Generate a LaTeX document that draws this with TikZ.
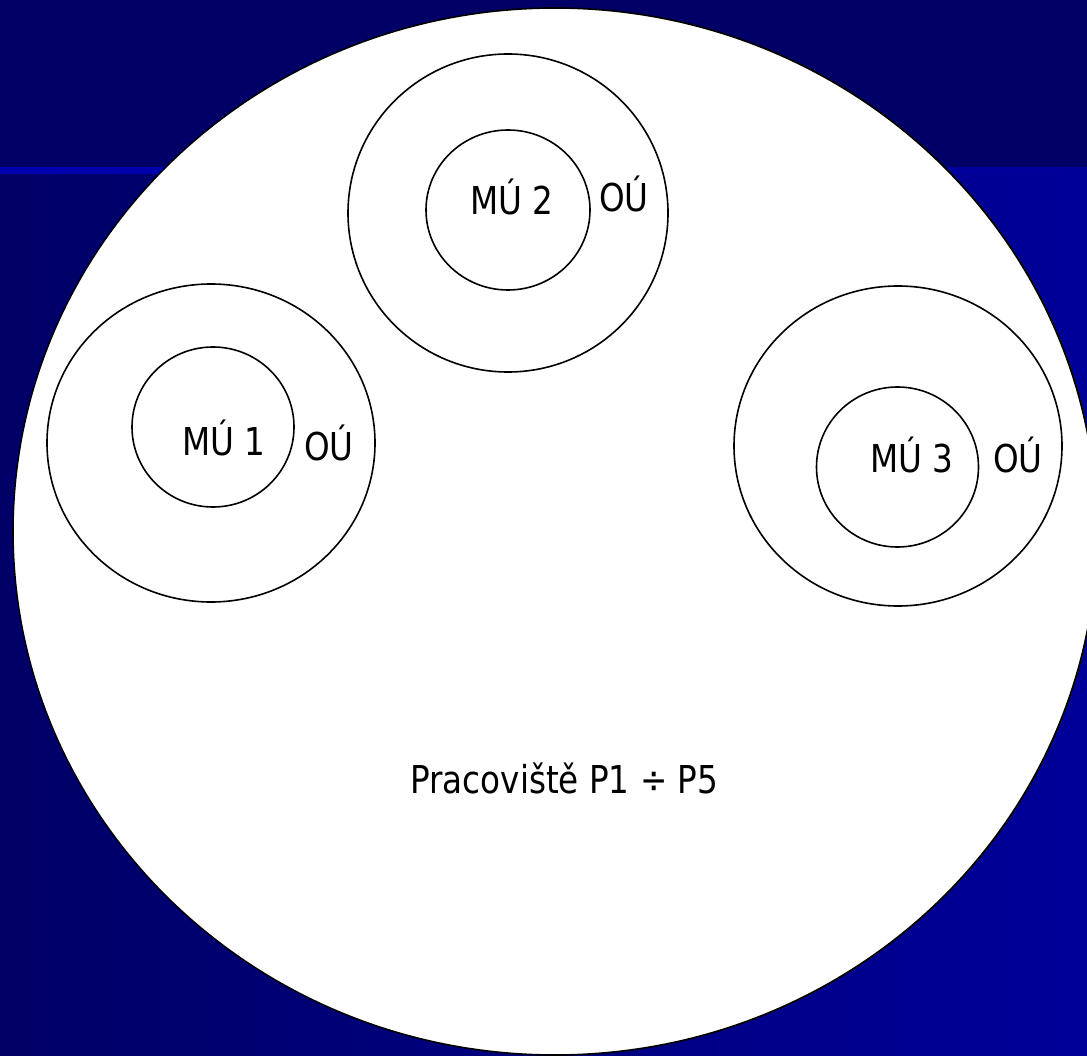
\documentclass[tikz,border=0pt]{standalone}
\usepackage{fontspec}
\setmainfont{DejaVu Sans}[FakeStretch=0.85]
\begin{document}
\begin{tikzpicture}[x=1pt,y=-1pt,
  ring/.style={draw=black,line width=1.6pt},
  lbl/.style={anchor=base west,inner sep=0pt,font=\fontsize{38.4}{46}\selectfont,text=black}]
\useasboundingbox (0,0) rectangle (1087,1056);
\clip (0,0) rectangle (1087,1056);
% background
\fill[color={rgb,255:red,0;green,0;blue,102}] (0,0) rectangle (1087,171);
\shade[left color={rgb,255:red,0;green,0;blue,102},right color={rgb,255:red,0;green,0;blue,153}] (0,171) rectangle (1087,1056);
\shade[left color={rgb,255:red,0;green,0;blue,175},right color={rgb,255:red,0;green,0;blue,153}] (0,168) rectangle (1087,174);
% big workplace circle
\draw[ring,fill=white] (555,531.5) ellipse [x radius=542,y radius=523.5];
% group 1
\draw[ring] (211,443) ellipse [x radius=164,y radius=159];
\draw[ring] (213,427) ellipse [x radius=81,y radius=80];
% group 2
\draw[ring] (508,213) ellipse [x radius=160,y radius=159];
\draw[ring] (508,210) ellipse [x radius=82,y radius=80];
% group 3
\draw[ring] (898,446) ellipse [x radius=164,y radius=160];
\draw[ring] (897.5,467) ellipse [x radius=81,y radius=80];
% labels
\node[lbl] (mu1) at (182,455) {MÚ 1};
\node[lbl] (ou1) at (304,460) {OÚ};
\node[lbl] (mu2) at (470,215) {MÚ 2};
\node[lbl] (ou2) at (599,212) {OÚ};
\node[lbl] (mu3) at (870,472) {MÚ 3};
\node[lbl] (ou3) at (993,472) {OÚ};
\node[lbl] (pr) at (410,793) {Pracoviště P1 ÷ P5};
\end{tikzpicture}
\end{document}
